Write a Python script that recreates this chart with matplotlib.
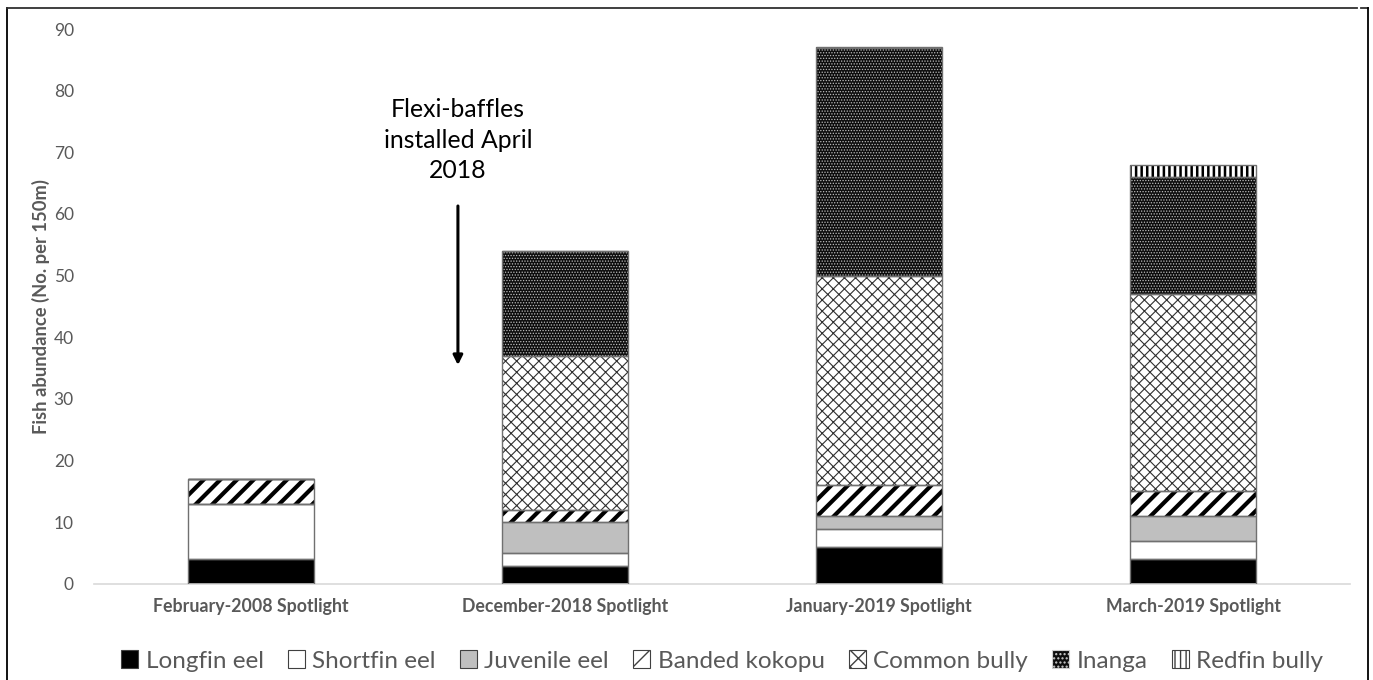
import matplotlib
matplotlib.use("Agg")
import matplotlib.pyplot as plt
import numpy as np
from matplotlib.patches import Patch
from matplotlib.lines import Line2D

plt.rcParams['font.family'] = ['Lato', 'DejaVu Sans']

categories = ["February-2008 Spotlight", "December-2018 Spotlight",
              "January-2019 Spotlight", "March-2019 Spotlight"]
species = ["Longfin eel", "Shortfin eel", "Juvenile eel", "Banded kokopu",
           "Common bully", "Inanga", "Redfin bully"]
longfin = [4, 3, 6, 4]
shortfin = [9, 2, 3, 3]
juvenile = [0, 5, 2, 4]
banded = [4, 2, 5, 4]
common = [0, 25, 34, 32]
inanga = [0, 17, 37, 19]
redfin = [0, 0, 0, 2]
series = [longfin, shortfin, juvenile, banded, common, inanga, redfin]
yticks = [0, 10, 20, 30, 40, 50, 60, 70, 80, 90]

# style per series: facecolor, hatch, hatchcolor, hatch linewidth
styles = [
    ("black", "", "black", 1.0),
    ("white", "", "black", 1.0),
    ("#bfbfbf", "", "black", 1.0),
    ("white", "//", "black", 3.0),
    ("white", "xxx", "#303030", 0.8),
    ("#0d0d0d", "......", "#bdbdbd", 0.6),
    ("white", "|||", "black", 1.8),
]

W, H = 1373, 680
fig = plt.figure(figsize=(W / 100, H / 100), dpi=100)
ax = fig.add_axes([94 / W, 1 - 584 / H, (1350 - 94) / W, (584 - 29) / H])

x = np.arange(len(categories))
bw = 0.40
bottom = np.zeros(len(categories))
gray_txt = "#595959"
for vals, (fc, hatch, hc, hlw) in zip(series, styles):
    vals = np.array(vals, dtype=float)
    with plt.rc_context({'hatch.linewidth': hlw}):
        ax.bar(x, vals, bw, bottom=bottom, color=fc, hatch=hatch,
               edgecolor=hc, linewidth=0, zorder=2)
    ax.bar(x, vals, bw, bottom=bottom, color="none", edgecolor="#707070",
           linewidth=1.0, zorder=3)
    bottom += vals

ax.set_xlim(-0.5, len(categories) - 0.5)
ax.set_ylim(0, 90)
ax.set_yticks(yticks)
ax.set_xticks(x)
ax.set_xticklabels(categories, fontsize=12.8, fontweight="bold", color=gray_txt)
ax.tick_params(axis="y", length=0, pad=14.5, labelsize=12.5, labelcolor=gray_txt)
ax.tick_params(axis="x", length=0, pad=10)
for s in ["top", "right", "left"]:
    ax.spines[s].set_visible(False)
ax.spines["bottom"].set_color("#d9d9d9")
ax.spines["bottom"].set_linewidth(1.2)
ax.set_ylabel("Fish abundance (No. per 150m)", fontsize=13.2, fontweight="bold",
              color=gray_txt, labelpad=3)

# annotation
ax.annotate("", xy=(0.659, 35.5), xytext=(0.659, 61.3),
            arrowprops=dict(arrowstyle="-|>", lw=2.2, color="black",
                            mutation_scale=14, shrinkA=0, shrinkB=0))
ax.text(0.659, 72.0, "Flexi-baffles\ninstalled April\n2018", ha="center", va="center",
        fontsize=17.8, color="black", linespacing=1.42)

# legend
legend_hatch = ["", "", "", "/", "xx", "....", "|||"]
handles = []
for (fc, hatch, hc, hlw), lh, name in zip(styles, legend_hatch, species):
    with plt.rc_context({'hatch.linewidth': min(hlw, 2.5)}):
        h = Patch(facecolor=fc, hatch=lh, edgecolor="#404040" if fc != "#0d0d0d" else "#cfcfcf",
                  linewidth=0.8)
    handles.append(h)
fig.legend(handles, species, loc="center", bbox_to_anchor=(0.526, 1 - 661 / H),
           ncol=7, frameon=False, fontsize=17.5, handlelength=0.7, handleheight=0.7,
           handletextpad=0.3, columnspacing=1.0, labelcolor=gray_txt)

# figure border
fig.add_artist(Line2D([7 / W, 7 / W], [0, 1 - 8 / H], transform=fig.transFigure, color="black", lw=1.3))
fig.add_artist(Line2D([7 / W, 1357 / W], [1 - 8 / H, 1 - 8 / H], transform=fig.transFigure, color="#303030", lw=1.3))
fig.add_artist(Line2D([1361 / W, 1368 / W], [1 - 8 / H, 1 - 8 / H], transform=fig.transFigure, color="#303030", lw=1.3))
fig.add_artist(Line2D([1368 / W, 1368 / W], [0, 1 - 8 / H], transform=fig.transFigure, color="black", lw=1.3))

fig.savefig("out.png", dpi=100)
